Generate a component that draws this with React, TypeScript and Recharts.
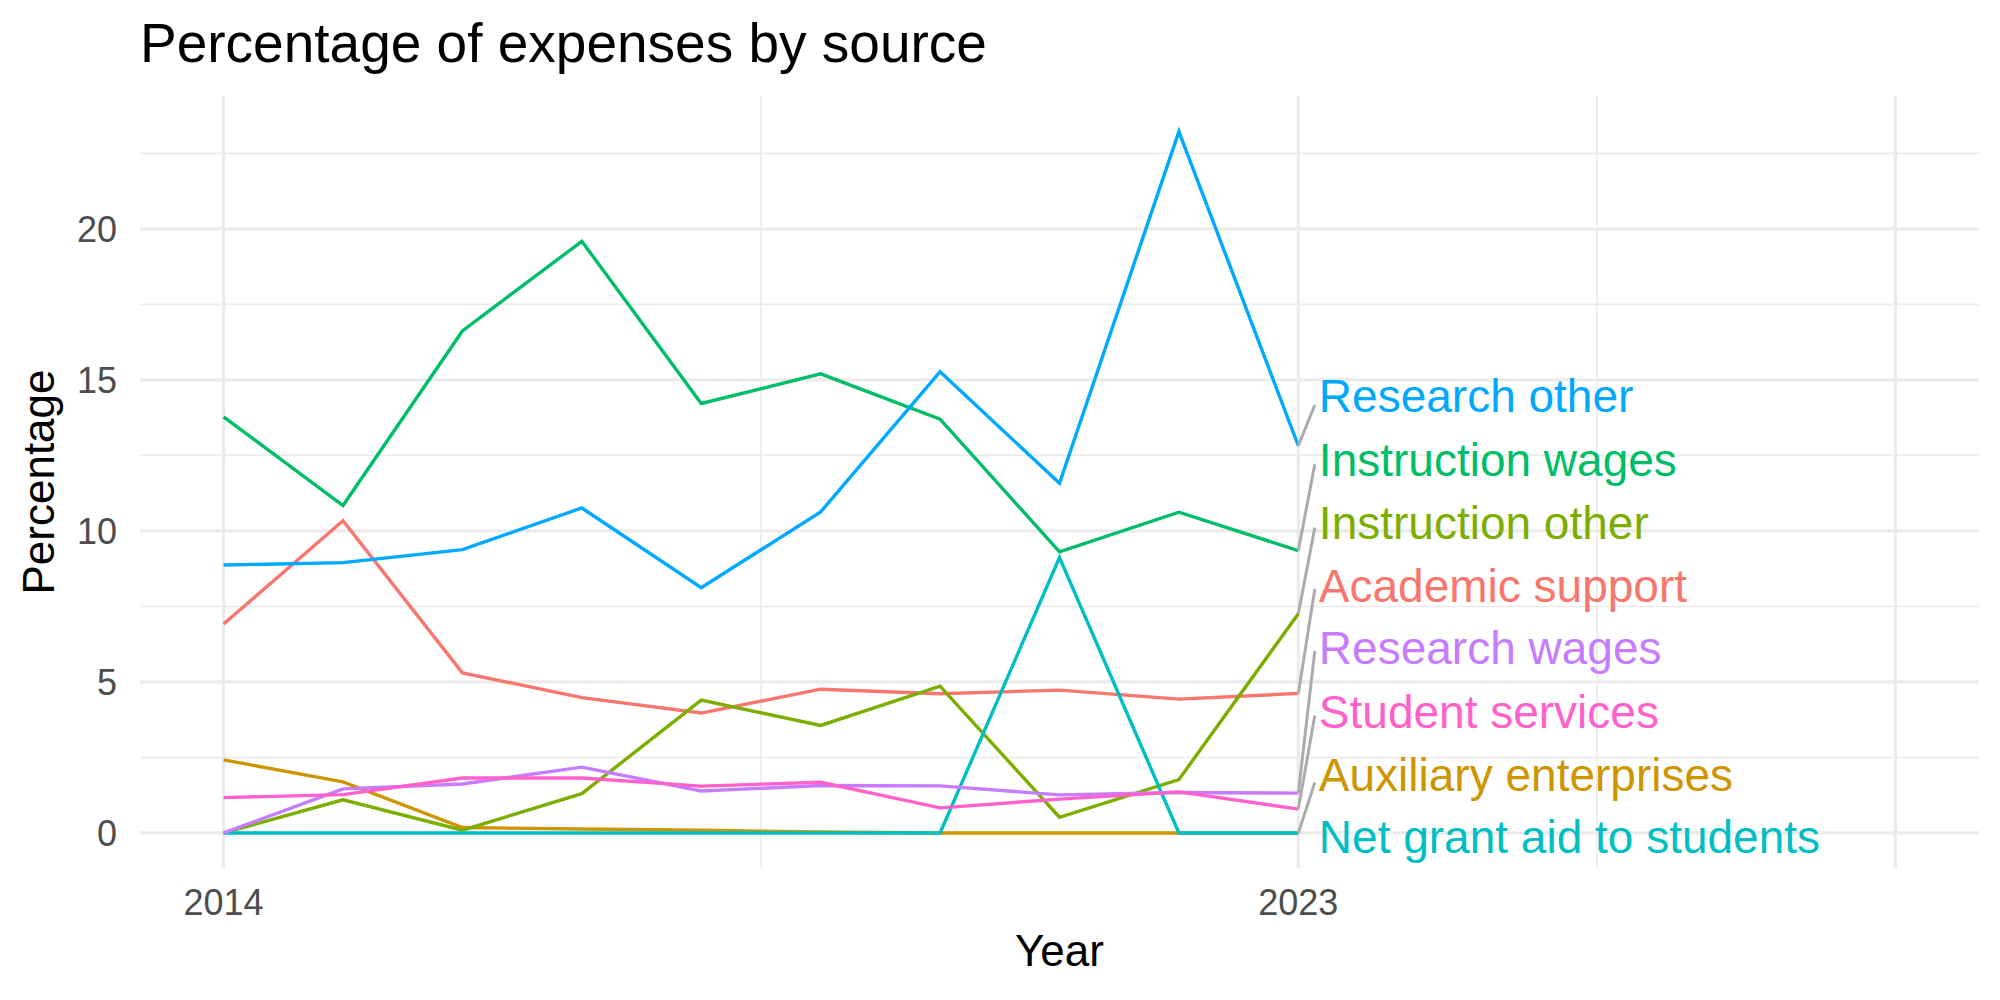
import React from 'react';
import {
  LineChart,
  Line,
  XAxis,
  YAxis,
  CartesianGrid,
  ReferenceLine,
  ReferenceDot,
} from 'recharts';

// years on the x axis
const years = [2014, 2015, 2016, 2017, 2018, 2019, 2020, 2021, 2022, 2023];

// percentage of expenses, one array per source
const academicSupport = [6.92, 10.34, 5.3, 4.48, 3.97, 4.76, 4.61, 4.73, 4.43, 4.62];
const auxiliaryEnterprises = [2.42, 1.69, 0.18, 0.13, 0.09, 0.03, 0, 0, 0, 0];
const instructionOther = [0, 1.1, 0.09, 1.3, 4.4, 3.56, 4.86, 0.52, 1.77, 7.26];
const instructionWages = [13.78, 10.84, 16.62, 19.59, 14.22, 15.2, 13.7, 9.31, 10.62, 9.35];
const netGrantAid = [0, 0, 0, 0, 0, 0, 0, 9.12, 0, 0];
const researchOther = [8.87, 8.95, 9.38, 10.76, 8.12, 10.63, 15.27, 11.58, 23.22, 12.82];
const researchWages = [0, 1.46, 1.62, 2.18, 1.39, 1.57, 1.56, 1.26, 1.34, 1.32];
const studentServices = [1.17, 1.27, 1.82, 1.82, 1.55, 1.68, 0.83, 1.12, 1.36, 0.79];

// axis ticks and grid values
const xTicks = [2014, 2023];
const xMajor = [2014, 2023, 2028];
const xMinor = [2018.5, 2025.5];
const yTicks = [0, 5, 10, 15, 20];
const yMinor = [2.5, 7.5, 12.5, 17.5, 22.5];

// repelled end labels: where the text sits and where the connector ends
const labelNames = [
  'Research other',
  'Instruction wages',
  'Instruction other',
  'Academic support',
  'Research wages',
  'Student services',
  'Auxiliary enterprises',
  'Net grant aid to students',
];
const labelY = [14.47, 12.37, 10.27, 8.2, 6.13, 4.04, 1.94, -0.11];
const segmentEndY = [14.17, 12.21, 10.11, 8.08, 6.03, 3.89, 1.67, null];

const LABEL_X = 2023.172;
const SEGMENT_X = 2023.138;

const FONT = '"Liberation Sans", Arial, Helvetica, sans-serif';

interface Series {
  key: string;
  name: string;
  color: string;
  values: number[];
}

// drawing order follows ggplot's alphabetical grouping
const series: Series[] = [
  { key: 'academic', name: 'Academic support', color: '#F8766D', values: academicSupport },
  { key: 'auxiliary', name: 'Auxiliary enterprises', color: '#CD9600', values: auxiliaryEnterprises },
  { key: 'instrOther', name: 'Instruction other', color: '#7CAE00', values: instructionOther },
  { key: 'instrWages', name: 'Instruction wages', color: '#00BE67', values: instructionWages },
  { key: 'netGrant', name: 'Net grant aid to students', color: '#00BFC4', values: netGrantAid },
  { key: 'resOther', name: 'Research other', color: '#00A9FF', values: researchOther },
  { key: 'resWages', name: 'Research wages', color: '#C77CFF', values: researchWages },
  { key: 'student', name: 'Student services', color: '#FF61CC', values: studentServices },
];

const chartData = years.map((year, i) => {
  const row: Record<string, number> = { year };
  series.forEach((s) => {
    row[s.key] = s.values[i];
  });
  return row;
});

const App: React.FC = () => {
  const lastIndex = years.length - 1;

  return (
    <div
      style={{
        position: 'absolute',
        left: 0,
        top: 0,
        width: 2000,
        height: 1000,
        background: '#FFFFFF',
        fontFamily: FONT,
      }}
    >
      <div
        style={{
          position: 'absolute',
          left: 140,
          top: 16,
          fontSize: 55,
          lineHeight: 1,
          color: '#000000',
          whiteSpace: 'nowrap',
        }}
      >
        Percentage of expenses by source
      </div>
      <LineChart
        width={2000}
        height={1000}
        data={chartData}
        margin={{ top: 96, right: 21, bottom: 0, left: 0 }}
        style={{ fontFamily: FONT }}
      >
        <CartesianGrid
          stroke="#EBEBEB"
          strokeWidth={1.6}
          horizontalValues={yMinor}
          verticalValues={xMinor}
        />
        <CartesianGrid
          stroke="#EBEBEB"
          strokeWidth={3.2}
          horizontalValues={yTicks}
          verticalValues={xMajor}
        />
        <XAxis
          dataKey="year"
          type="number"
          domain={[2013.3, 2028.7]}
          allowDataOverflow
          ticks={xTicks}
          height={132}
          axisLine={false}
          tickLine={false}
          tickSize={0}
          tickMargin={21}
          tick={{ fontSize: 36, fill: '#4D4D4D', fontFamily: FONT }}
          label={({ viewBox }: any) => (
            <text
              x={viewBox.x + viewBox.width / 2}
              y={viewBox.y + viewBox.height - 34}
              textAnchor="middle"
              fontSize={44}
              fill="#000000"
              fontFamily={FONT}
            >
              Year
            </text>
          )}
        />
        <YAxis
          type="number"
          domain={[-1.16, 24.4]}
          allowDataOverflow
          ticks={yTicks}
          width={140}
          axisLine={false}
          tickLine={false}
          tickSize={0}
          tickMargin={23}
          tick={{ fontSize: 36, fill: '#4D4D4D', fontFamily: FONT }}
          label={({ viewBox }: any) => {
            const x = viewBox.x + 54;
            const y = viewBox.y + viewBox.height / 2;
            return (
              <text
                x={x}
                y={y}
                transform={`rotate(-90, ${x}, ${y})`}
                textAnchor="middle"
                fontSize={44}
                fill="#000000"
                fontFamily={FONT}
              >
                Percentage
              </text>
            );
          }}
        />
        {series.map((s) => (
          <Line
            key={s.key}
            dataKey={s.key}
            name={s.name}
            type="linear"
            stroke={s.color}
            strokeWidth={3.4}
            dot={false}
            activeDot={false}
            isAnimationActive={false}
          />
        ))}
        {labelNames.map((name, i) => {
          const s = series.find((d) => d.name === name)!;
          const end = segmentEndY[i];
          if (end === null) return null;
          return (
            <ReferenceLine
              key={`seg-${name}`}
              segment={[
                { x: years[lastIndex], y: s.values[lastIndex] },
                { x: SEGMENT_X, y: end },
              ]}
              stroke="#ABABAB"
              strokeWidth={3}
            />
          );
        })}
        {labelNames.map((name, i) => {
          const s = series.find((d) => d.name === name)!;
          return (
            <ReferenceDot
              key={`lab-${name}`}
              x={LABEL_X}
              y={labelY[i]}
              r={0}
              shape={(props: any) => (
                <text
                  x={props.cx}
                  y={props.cy}
                  dy="0.36em"
                  fontSize={46}
                  fill={s.color}
                  fontFamily={FONT}
                >
                  {name}
                </text>
              )}
            />
          );
        })}
      </LineChart>
    </div>
  );
};

export default App;
